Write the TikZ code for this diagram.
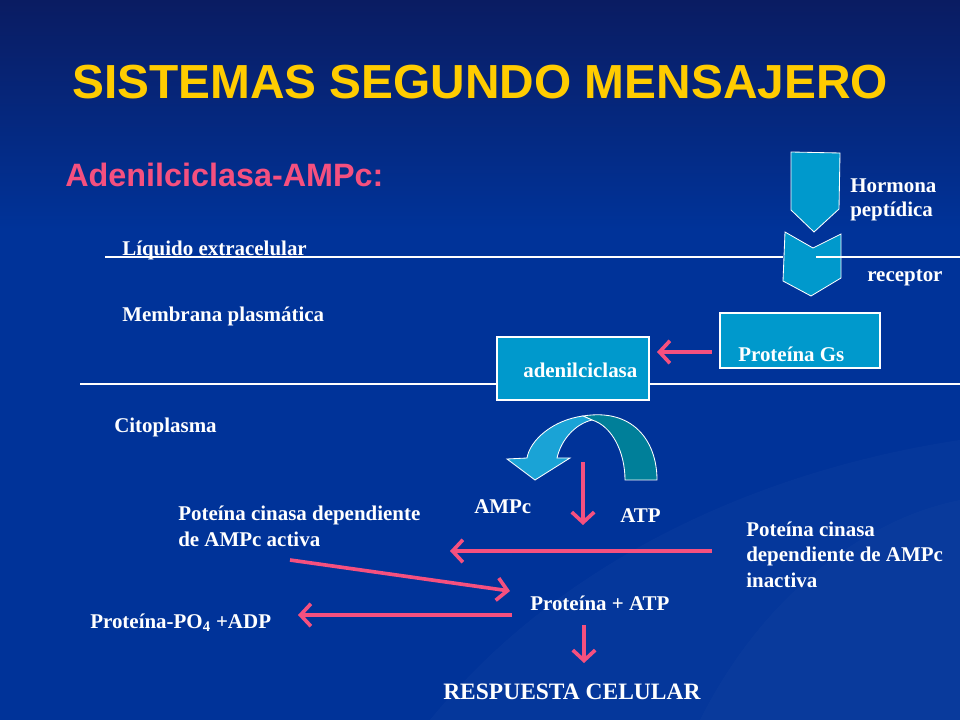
\documentclass[tikz,border=0pt]{standalone}
\usepackage{fontspec}
\setmainfont{Liberation Serif}
\newfontfamily\arialfont{Liberation Sans}
\usetikzlibrary{arrows.meta,positioning}
\definecolor{slidebg}{HTML}{003399}
\definecolor{slidetop}{HTML}{0A1C62}
\definecolor{titleyellow}{HTML}{FFCC00}
\definecolor{pinkish}{HTML}{F5507F}
\definecolor{boxcyan}{HTML}{0099CC}
\definecolor{curvedark}{HTML}{007F99}
\definecolor{curvelight}{HTML}{1AA3D6}
\begin{document}
\begin{tikzpicture}[x=0.025cm,y=-0.025cm,
  txt/.style={text=white,font=\bfseries\fontsize{14.9}{17}\selectfont,inner sep=0pt},
  box/.style={draw=white,line width=0.9pt,fill=boxcyan,inner sep=0pt},
  pinkarrow/.style={draw=pinkish,line width=2.6pt,-{Straight Barb[length=2.6mm,width=5.6mm]}},
  membrane/.style={draw=white,line width=0.8pt}]
% fondo
\fill[slidebg] (0,0) rectangle (960,720);
\shade[top color=slidetop,bottom color=slidebg] (0,0) rectangle (960,230);
\fill[white,opacity=0.018] (430,720) .. controls (560,560) and (760,470) .. (960,440) -- (960,720) -- cycle;
\fill[white,opacity=0.018] (700,720) .. controls (760,600) and (860,520) .. (960,500) -- (960,720) -- cycle;
\useasboundingbox (0,0) rectangle (960,720);

% titulos
\node[font=\arialfont\bfseries\fontsize{34}{40}\selectfont,text=titleyellow] (title) at (480,82) {SISTEMAS SEGUNDO MENSAJERO};
\node[font=\arialfont\bfseries\fontsize{23}{27}\selectfont,text=pinkish,inner sep=0pt,anchor=base west] (sub) at (65,187) {Adenilciclasa-AMPc:};

% membrana
\path[membrane] (105,257) -- (783,257);
\path[membrane] (80,384) -- (960,384);

\node[txt,anchor=base west] (liq) at (122,256) {Líquido extracelular};
\node[txt,anchor=base west] (memb) at (122,322) {Membrana plasmática};
\node[txt,anchor=base west] (cito) at (114,433) {Citoplasma};

% hormona y receptor
\path[draw=white,line width=0.6pt,fill=boxcyan] (791,152) -- (840,153) -- (839,209) -- (814,232) -- (791,210) -- cycle;
\path[draw=white,line width=0.6pt,fill=boxcyan] (785,232) -- (813,248) -- (841,234) -- (841,278) -- (811,296) -- (783,281) -- cycle;
\path[membrane] (816,257) -- (960,257);
\node[txt,anchor=base west] (horm) at (850,193) {Hormona};
\node[txt,anchor=base west] (pept) at (850,217) {peptídica};
\node[txt,anchor=base west] (rec) at (867,282) {receptor};

% cajas
\node[box,minimum width=4cm,minimum height=1.375cm] (gs) at (800,340.5) {};
\node[txt,anchor=base west] (gstext) at (738,362) {Proteína Gs};
\node[box,minimum width=3.8cm,minimum height=1.575cm] (adc) at (573,368.5) {};
\node[txt,anchor=base west] (adctext) at (523,378) {adenilciclasa};

% flecha curva
\path[draw=white,line width=0.6pt,fill=curvedark] (583,416) .. controls (632,408) and (657,440) .. (657,480) -- (625,480) .. controls (625,452) and (612,426) .. (592,420) -- cycle;
\path[draw=white,line width=0.6pt,fill=curvelight] (583,416) .. controls (553,420) and (530,440) .. (527,458) -- (507,459) -- (535,480) -- (570,458) -- (557,458) .. controls (561,440) and (575,424) .. (592,420) -- cycle;

\node[txt,anchor=base west] (ampc) at (474,514) {AMPc};
\node[txt,anchor=base west] (atp) at (620,523) {ATP};

% cinasas
\node[txt,anchor=base west] (act1) at (178,521) {Poteína cinasa dependiente};
\node[txt,anchor=base west] (act2) at (178,546) {de AMPc activa};
\node[txt,anchor=base west] (inact1) at (746,536) {Poteína cinasa};
\node[txt,anchor=base west] (inact2) at (746,561) {dependiente de AMPc};
\node[txt,anchor=base west] (inact3) at (746,587) {inactiva};

\node[txt,anchor=base west] (prot) at (530,610) {Proteína + ATP};
\node[txt,anchor=base west] (po4) at (90,628) {Proteína-PO\textsubscript{4} +ADP};
\node[txt,anchor=base west,font=\bfseries\fontsize{16.7}{20}\selectfont] (resp) at (443,699) {RESPUESTA CELULAR};

% extremos de flechas
\coordinate (gsout) at (712,352);
\coordinate (adcin) at (657,352);
\coordinate (curvout) at (583,462);
\coordinate (curvend) at (583,525);
\coordinate (inactout) at (712,551);
\coordinate (actin) at (450,551);
\coordinate (actout) at (290,560);
\coordinate (protin) at (510,591);
\coordinate (protleft) at (512,615);
\coordinate (po4in) at (298,615);
\coordinate (protdown) at (584,625);
\coordinate (respin) at (584,663);

\path[pinkarrow] (gsout) -- (adcin);
\path[pinkarrow] (curvout) -- (curvend);
\path[pinkarrow] (inactout) -- (actin);
\path[pinkarrow] (actout) -- (protin);
\path[pinkarrow] (protleft) -- (po4in);
\path[pinkarrow] (protdown) -- (respin);
\end{tikzpicture}
\end{document}
